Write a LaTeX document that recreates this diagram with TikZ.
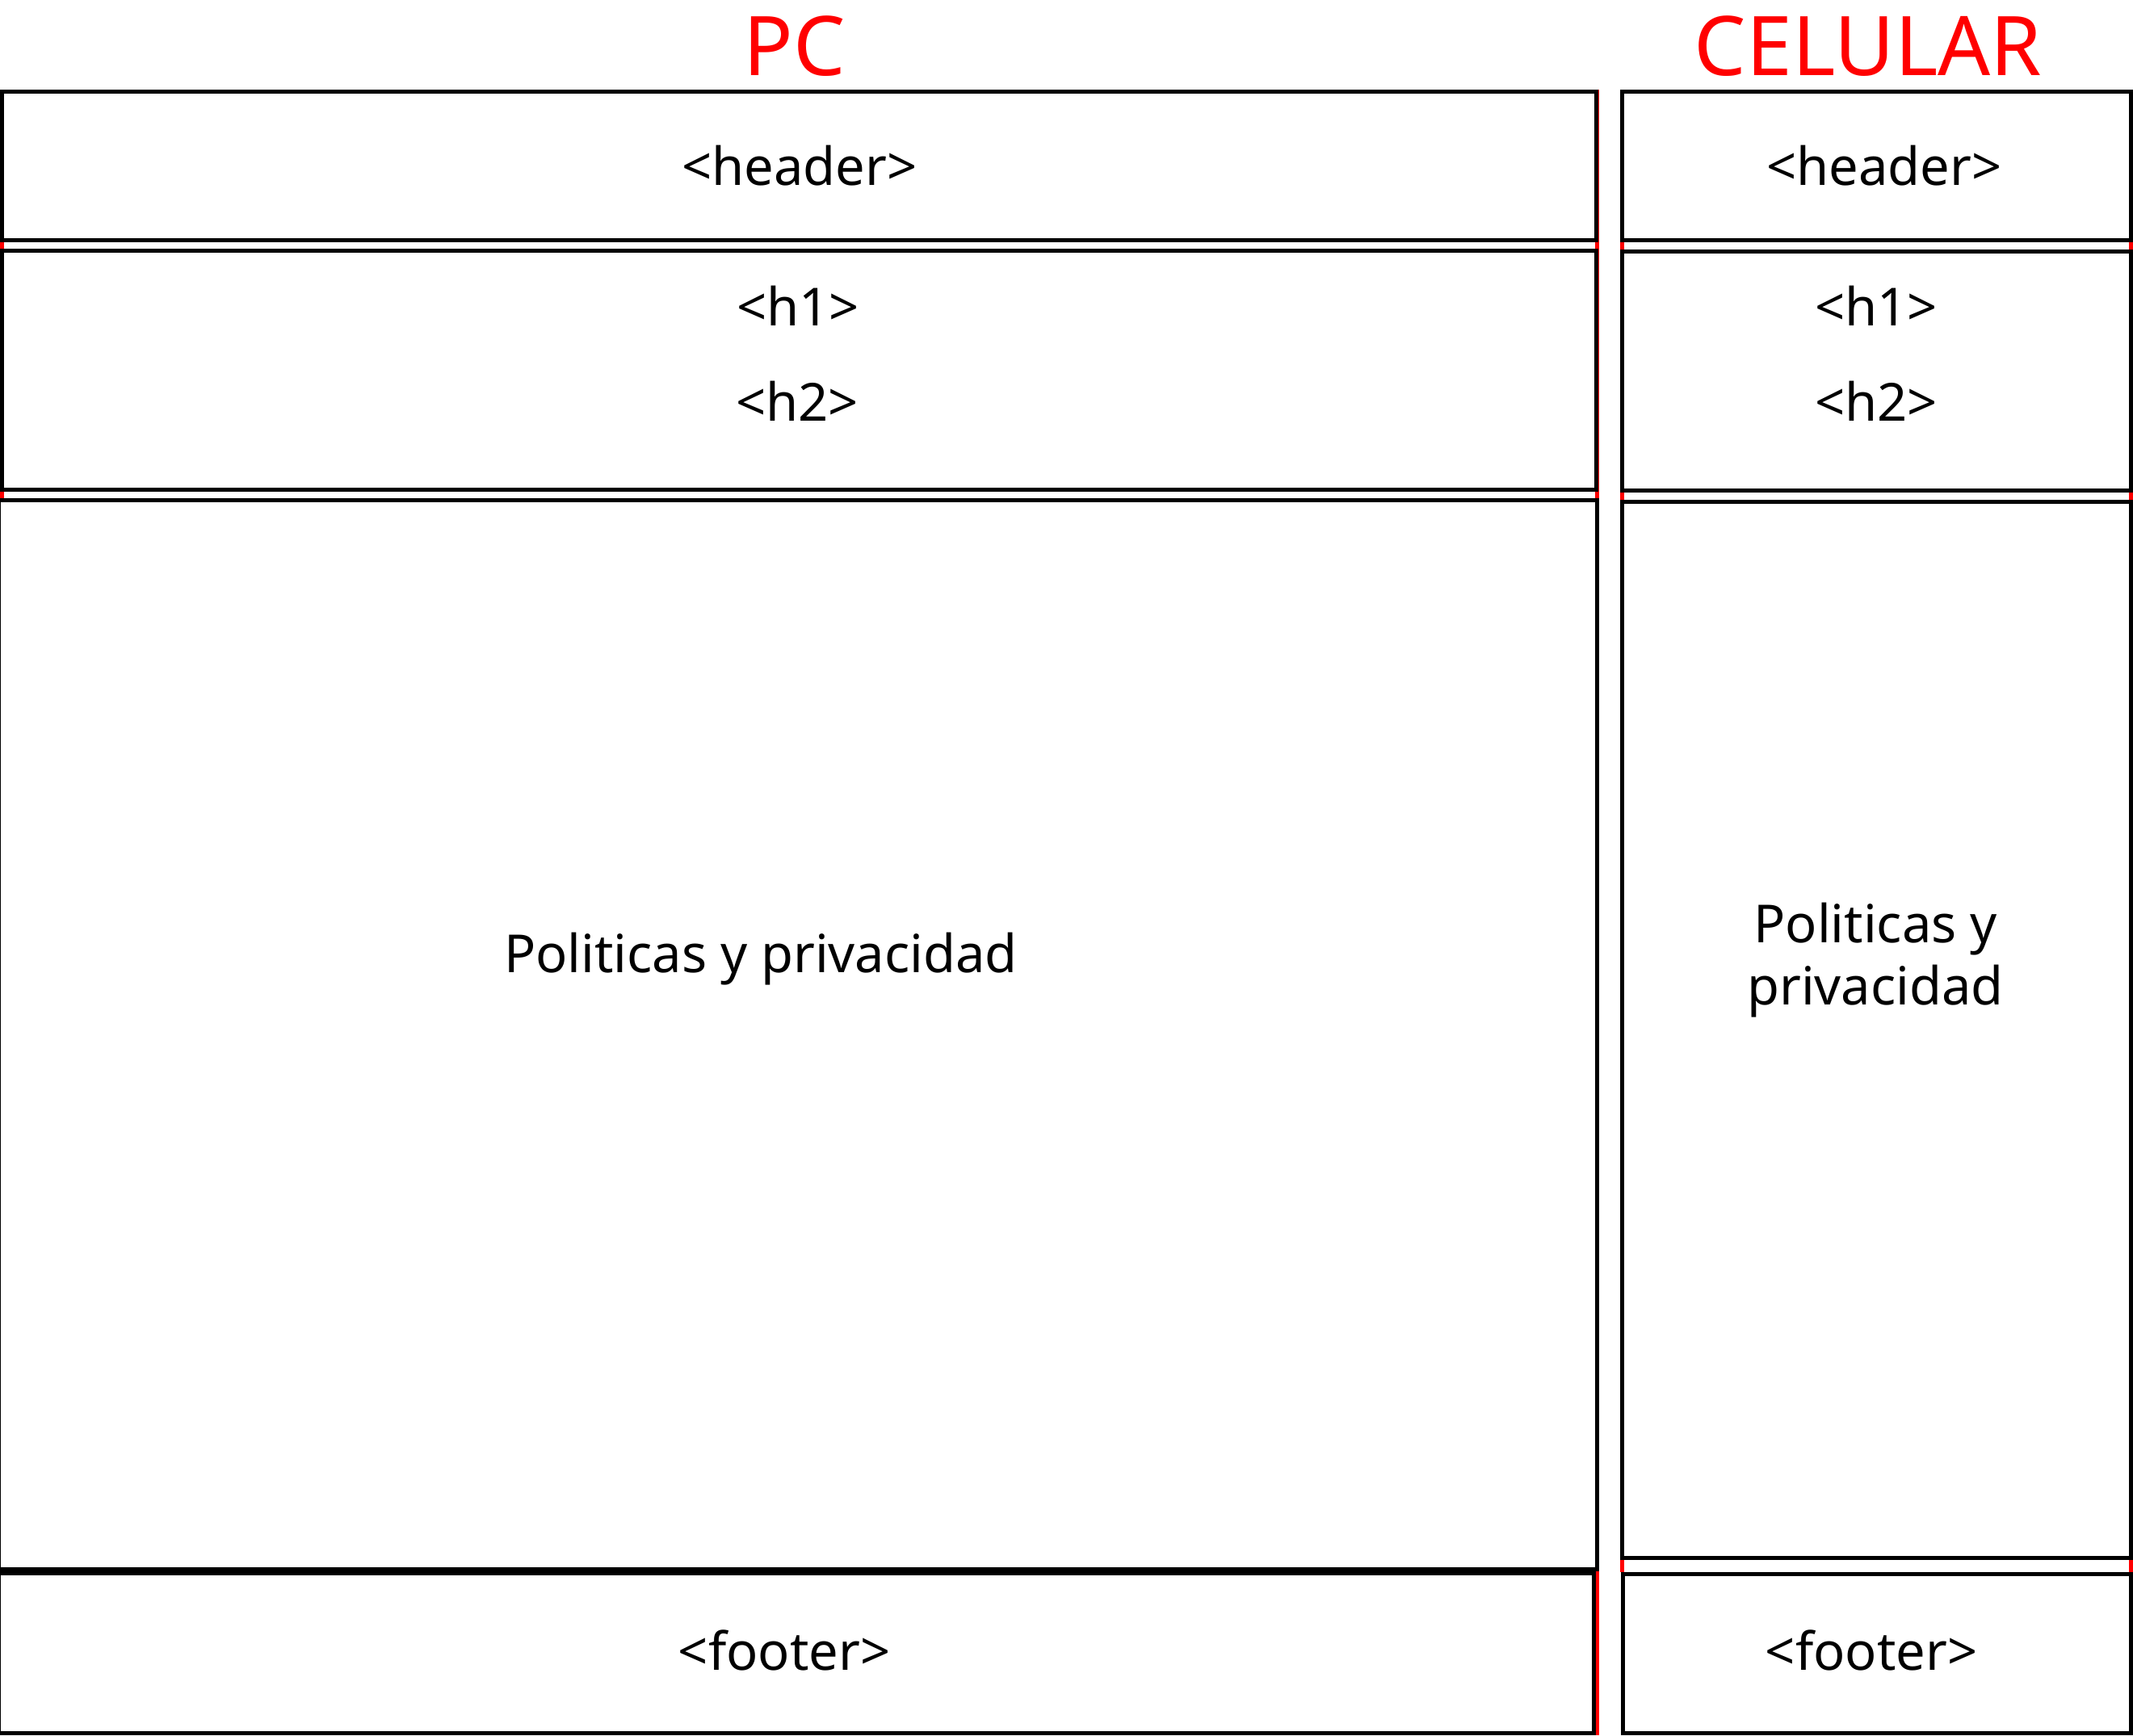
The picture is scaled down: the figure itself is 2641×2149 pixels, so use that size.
\documentclass[tikz,border=0pt]{standalone}
\usepackage{fontspec}
\setmainfont{Noto Sans}

\begin{document}
\begin{tikzpicture}[x=1pt,y=-1pt,
        box/.style={draw=black, line width=5pt},
        txt/.style={anchor=base, inner sep=0pt, align=center, font=\fontsize{65}{77}\selectfont},
        ttl/.style={anchor=base, inner sep=0pt, text=framered, font=\fontsize{102}{104}\selectfont},
        gapmark/.style={fill=framered}]
        % Define colors
        \definecolor{framered}{RGB}{255,0,0}
        \useasboundingbox (0,0) rectangle (2641,2149);

        % Titles
        \node[ttl] (pctitle) at (984,93) {PC};
        \node[ttl] (celtitle) at (2313,93) {CELULAR};

        % Red frame edges
        \draw[framered, line width=1pt] (1979.5,111) -- (1979.5,2149);
        \draw[framered, line width=4pt] (1978,1946) -- (1978,2149);
        \foreach \x in {0,1975}
            \foreach \ya/\yb in {300/308,609/617}
                \fill[gapmark] (\x,\ya) rectangle (\x+5,\yb);
        \foreach \x in {2006,2636}
            \foreach \ya/\yb in {300/309,610/619,1932/1947}
                \fill[gapmark] (\x,\ya) rectangle (\x+5,\yb);

        % PC boxes
        \draw[box] (2,113.5) rectangle (1976.5,297.5);
        \draw[box] (2,310.5) rectangle (1976.5,606.5);
        \draw[box] (-1.5,619.5) rectangle (1977,1943.5);
        \draw[box] (-1.5,1948.5) rectangle (1973.5,2146.5);

        % Celular boxes
        \draw[box] (2008.5,113.5) rectangle (2638.5,297.5);
        \draw[box] (2008.5,311.5) rectangle (2638.5,607.5);
        \draw[box] (2008.5,621.5) rectangle (2638.5,1929.5);
        \draw[box] (2009,1949) rectangle (2638.5,2146.5);

        % PC labels
        \node[txt] (pcheader) at (990,229) {<header>};
        \node[txt] (pchone) at (988,403) {<h1>};
        \node[txt] (pchtwo) at (987,521) {<h2>};
        \node[txt] (pcbody) at (942,1204) {Politicas y privacidad};
        \node[txt] (pcfooter) at (971,2068) {<footer>};

        % Celular labels
        \node[txt] (celheader) at (2333,229) {<header>};
        \node[txt] (celhone) at (2323,403) {<h1>};
        \node[txt] (celhtwo) at (2323,521) {<h2>};
        \node[txt] (celbody) at (2322,1244) {Politicas y\\privacidad};
        \node[txt] (celfooter) at (2317,2068) {<footer>};

    \end{tikzpicture}
\end{document}
